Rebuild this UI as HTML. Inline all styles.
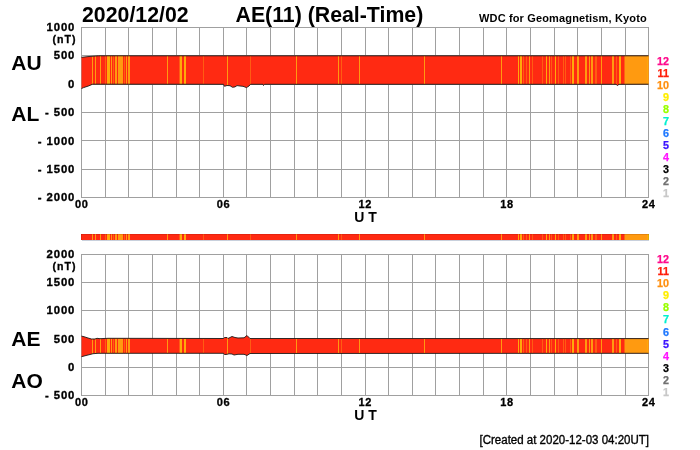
<!DOCTYPE html>
<html><head><meta charset="utf-8"><style>
html,body{margin:0;padding:0;background:#fff;width:700px;height:450px;overflow:hidden}
svg{display:block;will-change:transform}
text{font-family:"Liberation Sans",sans-serif;font-weight:bold;fill:#000}
.t1{font-size:21.3px}
.wdc{font-size:11px;letter-spacing:0.15px}
.big{font-size:21px}
.yl text{font-size:11.3px;letter-spacing:0.9px;stroke:#000;stroke-width:0.35px}
.nt{font-size:10.6px;text-anchor:end;letter-spacing:1px;stroke:#000;stroke-width:0.3px}
.xl text{font-size:11px;letter-spacing:0.6px;stroke:#000;stroke-width:0.3px}
.ut{font-size:14px}
.lg text{font-size:10.8px}
.cr{font-size:12px;font-weight:normal;stroke:#000;stroke-width:0.35px}
</style></head><body>
<svg width="700" height="450" viewBox="0 0 700 450">
<defs>
<clipPath id="cu"><polygon points="81.5,57.3 89,56.5 98.5,55.8 648.5,55.8 648.5,84.2 619,84.3 617.5,85.5 616,84.3 264.5,84.3 263.5,85.5 263,84.3 250.5,84.3 249,86 246.5,87.6 243,86.3 240,86 237,85.6 235,86.9 232.5,87.3 230,85.7 227,85.5 224.5,86.3 223.5,84.3 92.6,84.2 88.7,85.9 83.6,87.6 81.5,88.5"/></clipPath>
<clipPath id="cl"><polygon points="81.5,336.1 84,336.7 88,338 91.5,339 95,339 97,338.3 100,338.7 108,338.3 223.5,338.5 224.5,337.5 227,337.5 228,338.5 232,336.5 235,337.5 238,338 244,337.8 247,335.5 250,338.5 648.5,338.6 648.5,353.3 250,353.5 247,355.5 244,354.3 238,354.3 234,355 232,354 229,353.8 226,354.5 224.5,354.5 223.5,353.3 98,353.3 93,353.7 90,354.5 86,355.5 81.5,356.7"/></clipPath>
<clipPath id="cb"><rect x="81" y="234" width="568" height="6"/></clipPath>
<g id="st"><rect x="60" y="0" width="600" height="450" fill="#ff2a12"/>
<rect x="92" y="0" width="1" height="450" fill="#ff9a10"/>
<rect x="95" y="0" width="1" height="450" fill="#ff9a10"/>
<rect x="100" y="0" width="1" height="450" fill="#ff9a10"/>
<rect x="105" y="0" width="1" height="450" fill="#ff5c12"/>
<rect x="107" y="0" width="3" height="450" fill="#ffaa0a"/>
<rect x="111" y="0" width="1" height="450" fill="#ff9a10"/>
<rect x="113" y="0" width="1" height="450" fill="#ff5c12"/>
<rect x="115" y="0" width="2" height="450" fill="#ff9a10"/>
<rect x="118" y="0" width="5" height="450" fill="#ff9a10"/>
<rect x="124" y="0" width="1" height="450" fill="#ff5c12"/>
<rect x="126" y="0" width="1" height="450" fill="#ff9a10"/>
<rect x="128" y="0" width="2" height="450" fill="#ff9a10"/>
<rect x="167" y="0" width="1" height="450" fill="#ff9a10"/>
<rect x="179" y="0" width="1" height="450" fill="#ff5c12"/>
<rect x="180" y="0" width="2" height="450" fill="#ffaa0a"/>
<rect x="184" y="0" width="2" height="450" fill="#ffaa0a"/>
<rect x="203" y="0" width="1" height="450" fill="#ff5c12"/>
<rect x="227" y="0" width="1" height="450" fill="#ff9a10"/>
<rect x="250" y="0" width="1" height="450" fill="#ff5c12"/>
<rect x="296" y="0" width="1" height="450" fill="#ff9a10"/>
<rect x="338" y="0" width="1" height="450" fill="#ff9a10"/>
<rect x="341" y="0" width="1" height="450" fill="#ff5c12"/>
<rect x="359" y="0" width="1" height="450" fill="#ff9a10"/>
<rect x="424" y="0" width="1" height="450" fill="#ff9a10"/>
<rect x="501" y="0" width="1" height="450" fill="#ff9a10"/>
<rect x="518" y="0" width="1" height="450" fill="#ffaa0a"/>
<rect x="520" y="0" width="2" height="450" fill="#ffaa0a"/>
<rect x="523" y="0" width="1" height="450" fill="#ff5c12"/>
<rect x="526" y="0" width="1" height="450" fill="#ff5c12"/>
<rect x="529" y="0" width="1" height="450" fill="#ff9a10"/>
<rect x="532" y="0" width="1" height="450" fill="#ff5c12"/>
<rect x="542" y="0" width="1" height="450" fill="#ff5c12"/>
<rect x="546" y="0" width="1" height="450" fill="#ffaa0a"/>
<rect x="549" y="0" width="1" height="450" fill="#ff9a10"/>
<rect x="551" y="0" width="1" height="450" fill="#ff5c12"/>
<rect x="555" y="0" width="1" height="450" fill="#ffaa0a"/>
<rect x="558" y="0" width="1" height="450" fill="#ff5c12"/>
<rect x="563" y="0" width="1" height="450" fill="#ff5c12"/>
<rect x="565" y="0" width="1" height="450" fill="#ff5c12"/>
<rect x="570" y="0" width="1" height="450" fill="#ff5c12"/>
<rect x="572" y="0" width="2" height="450" fill="#ffaa0a"/>
<rect x="577" y="0" width="2" height="450" fill="#ff9a10"/>
<rect x="585" y="0" width="2" height="450" fill="#ff9a10"/>
<rect x="589" y="0" width="1" height="450" fill="#ff9a10"/>
<rect x="591" y="0" width="2" height="450" fill="#ff9a10"/>
<rect x="595" y="0" width="2" height="450" fill="#ff5c12"/>
<rect x="601" y="0" width="1" height="450" fill="#ff9a10"/>
<rect x="612" y="0" width="2" height="450" fill="#ff9a10"/>
<rect x="616" y="0" width="1" height="450" fill="#ff5c12"/>
<rect x="619" y="0" width="2" height="450" fill="#ffaa0a"/>
<rect x="624.5" y="0" width="40" height="450" fill="#ff9a10"/>
<rect x="647.6" y="0" width="1" height="450" fill="#ffc000"/></g>
</defs>
<rect width="700" height="450" fill="#fff"/>
<g stroke="#a0a0a0" stroke-width="1" fill="none"><line x1="81.50" y1="27.5" x2="81.50" y2="197.5"/>
<line x1="105.50" y1="27.5" x2="105.50" y2="197.5"/>
<line x1="128.50" y1="27.5" x2="128.50" y2="197.5"/>
<line x1="152.50" y1="27.5" x2="152.50" y2="197.5"/>
<line x1="176.50" y1="27.5" x2="176.50" y2="197.5"/>
<line x1="199.50" y1="27.5" x2="199.50" y2="197.5"/>
<line x1="223.50" y1="27.5" x2="223.50" y2="197.5"/>
<line x1="246.50" y1="27.5" x2="246.50" y2="197.5"/>
<line x1="270.50" y1="27.5" x2="270.50" y2="197.5"/>
<line x1="294.50" y1="27.5" x2="294.50" y2="197.5"/>
<line x1="317.50" y1="27.5" x2="317.50" y2="197.5"/>
<line x1="341.50" y1="27.5" x2="341.50" y2="197.5"/>
<line x1="365.50" y1="27.5" x2="365.50" y2="197.5"/>
<line x1="388.50" y1="27.5" x2="388.50" y2="197.5"/>
<line x1="412.50" y1="27.5" x2="412.50" y2="197.5"/>
<line x1="435.50" y1="27.5" x2="435.50" y2="197.5"/>
<line x1="459.50" y1="27.5" x2="459.50" y2="197.5"/>
<line x1="483.50" y1="27.5" x2="483.50" y2="197.5"/>
<line x1="506.50" y1="27.5" x2="506.50" y2="197.5"/>
<line x1="530.50" y1="27.5" x2="530.50" y2="197.5"/>
<line x1="554.50" y1="27.5" x2="554.50" y2="197.5"/>
<line x1="577.50" y1="27.5" x2="577.50" y2="197.5"/>
<line x1="601.50" y1="27.5" x2="601.50" y2="197.5"/>
<line x1="625.50" y1="27.5" x2="625.50" y2="197.5"/>
<line x1="648.50" y1="27.5" x2="648.50" y2="197.5"/>
<line x1="81.0" y1="27.50" x2="649.0" y2="27.50"/>
<line x1="81.0" y1="55.50" x2="649.0" y2="55.50"/>
<line x1="81.0" y1="84.50" x2="649.0" y2="84.50"/>
<line x1="81.0" y1="112.50" x2="649.0" y2="112.50"/>
<line x1="81.0" y1="140.50" x2="649.0" y2="140.50"/>
<line x1="81.0" y1="169.50" x2="649.0" y2="169.50"/>
<line x1="81.0" y1="197.50" x2="649.0" y2="197.50"/></g>
<g stroke="#a0a0a0" stroke-width="1" fill="none"><line x1="81.50" y1="254.5" x2="81.50" y2="395.5"/>
<line x1="105.50" y1="254.5" x2="105.50" y2="395.5"/>
<line x1="128.50" y1="254.5" x2="128.50" y2="395.5"/>
<line x1="152.50" y1="254.5" x2="152.50" y2="395.5"/>
<line x1="176.50" y1="254.5" x2="176.50" y2="395.5"/>
<line x1="199.50" y1="254.5" x2="199.50" y2="395.5"/>
<line x1="223.50" y1="254.5" x2="223.50" y2="395.5"/>
<line x1="246.50" y1="254.5" x2="246.50" y2="395.5"/>
<line x1="270.50" y1="254.5" x2="270.50" y2="395.5"/>
<line x1="294.50" y1="254.5" x2="294.50" y2="395.5"/>
<line x1="317.50" y1="254.5" x2="317.50" y2="395.5"/>
<line x1="341.50" y1="254.5" x2="341.50" y2="395.5"/>
<line x1="365.50" y1="254.5" x2="365.50" y2="395.5"/>
<line x1="388.50" y1="254.5" x2="388.50" y2="395.5"/>
<line x1="412.50" y1="254.5" x2="412.50" y2="395.5"/>
<line x1="435.50" y1="254.5" x2="435.50" y2="395.5"/>
<line x1="459.50" y1="254.5" x2="459.50" y2="395.5"/>
<line x1="483.50" y1="254.5" x2="483.50" y2="395.5"/>
<line x1="506.50" y1="254.5" x2="506.50" y2="395.5"/>
<line x1="530.50" y1="254.5" x2="530.50" y2="395.5"/>
<line x1="554.50" y1="254.5" x2="554.50" y2="395.5"/>
<line x1="577.50" y1="254.5" x2="577.50" y2="395.5"/>
<line x1="601.50" y1="254.5" x2="601.50" y2="395.5"/>
<line x1="625.50" y1="254.5" x2="625.50" y2="395.5"/>
<line x1="648.50" y1="254.5" x2="648.50" y2="395.5"/>
<line x1="81.0" y1="254.50" x2="649.0" y2="254.50"/>
<line x1="81.0" y1="282.50" x2="649.0" y2="282.50"/>
<line x1="81.0" y1="310.50" x2="649.0" y2="310.50"/>
<line x1="81.0" y1="339.50" x2="649.0" y2="339.50"/>
<line x1="81.0" y1="367.50" x2="649.0" y2="367.50"/>
<line x1="81.0" y1="395.50" x2="649.0" y2="395.50"/></g>
<g clip-path="url(#cu)"><use href="#st"/></g>
<g clip-path="url(#cl)"><use href="#st"/></g>
<rect x="82" y="240" width="567" height="1" fill="#c8d0dc"/>
<g clip-path="url(#cb)"><use href="#st"/></g>
<rect x="81" y="234" width="568" height="1" fill="#500000" fill-opacity="0.15"/>
<rect x="81" y="234" width="1" height="6" fill="#500000" fill-opacity="0.15"/>
<rect x="648" y="234" width="1" height="6" fill="#a0a000" fill-opacity="0.35"/>
<g fill="none" stroke="#1a1a1a" stroke-width="0.9">
<polyline points="81.5,57.3 89,56.5 98.5,55.8 648.5,55.8"/><polyline points="81.5,88.5 83.6,87.6 88.7,85.9 92.6,84.2 223.5,84.3 224.5,86.3 227,85.5 230,85.7 232.5,87.3 235,86.9 237,85.6 240,86 243,86.3 246.5,87.6 249,86 250.5,84.3 263,84.3 263.5,85.5 264.5,84.3 616,84.3 617.5,85.5 619,84.3 648.5,84.2"/>
<polyline points="81.5,336.1 84,336.7 88,338 91.5,339 95,339 97,338.3 100,338.7 108,338.3 223.5,338.5 224.5,337.5 227,337.5 228,338.5 232,336.5 235,337.5 238,338 244,337.8 247,335.5 250,338.5 648.5,338.6"/><polyline points="81.5,356.7 86,355.5 90,354.5 93,353.7 98,353.3 223.5,353.3 224.5,354.5 226,354.5 229,353.8 232,354 234,355 238,354.3 244,354.3 247,355.5 250,353.5 648.5,353.3"/>
</g>
<text class="t1" x="82" y="22.2">2020/12/02</text>
<text class="t1" x="235.5" y="22.2">AE(11) (Real-Time)</text>
<text class="wdc" x="479" y="21.8">WDC for Geomagnetism, Kyoto</text>
<text class="big" x="11.3" y="69.9">AU</text>
<text class="big" x="11.3" y="120.6">AL</text>
<text class="big" x="11.3" y="346.1">AE</text>
<text class="big" x="11.3" y="388.4">AO</text>
<g class="yl"><text x="75.3" y="31.30" text-anchor="end">1000</text>
<text x="75.3" y="59.30" text-anchor="end">500</text>
<text x="75.3" y="87.70" text-anchor="end">0</text>
<text x="75.3" y="116.00" text-anchor="end">- 500</text>
<text x="75.3" y="144.50" text-anchor="end">- 1000</text>
<text x="75.3" y="172.70" text-anchor="end">- 1500</text>
<text x="75.3" y="201.30" text-anchor="end">- 2000</text></g>
<text class="nt" x="76.6" y="43">(nT)</text>
<g class="yl"><text x="75.3" y="258.30" text-anchor="end">2000</text>
<text x="75.3" y="286.20" text-anchor="end">1500</text>
<text x="75.3" y="314.40" text-anchor="end">1000</text>
<text x="75.3" y="342.70" text-anchor="end">500</text>
<text x="75.3" y="371.00" text-anchor="end">0</text>
<text x="75.3" y="399.20" text-anchor="end">- 500</text></g>
<text class="nt" x="76.6" y="270">(nT)</text>
<g class="xl"><text x="81.80" y="208.00" text-anchor="middle">00</text>
<text x="223.55" y="208.00" text-anchor="middle">06</text>
<text x="365.30" y="208.00" text-anchor="middle">12</text>
<text x="507.05" y="208.00" text-anchor="middle">18</text>
<text x="648.80" y="208.00" text-anchor="middle">24</text></g>
<g class="xl"><text x="81.80" y="406.10" text-anchor="middle">00</text>
<text x="223.55" y="406.10" text-anchor="middle">06</text>
<text x="365.30" y="406.10" text-anchor="middle">12</text>
<text x="507.05" y="406.10" text-anchor="middle">18</text>
<text x="648.80" y="406.10" text-anchor="middle">24</text></g>
<text class="ut" x="365.5" y="221.7" text-anchor="middle">U T</text>
<text class="ut" x="365.5" y="420.4" text-anchor="middle">U T</text>
<g class="lg"><text x="669" y="64.60" text-anchor="end" style="fill:#ff0a8c;stroke:#ff0a8c;stroke-width:0.25px">12</text>
<text x="669" y="76.65" text-anchor="end" style="fill:#ff1e0a;stroke:#ff1e0a;stroke-width:0.25px">11</text>
<text x="669" y="88.70" text-anchor="end" style="fill:#ff9010;stroke:#ff9010;stroke-width:0.25px">10</text>
<text x="669" y="100.75" text-anchor="end" style="fill:#ffee00;stroke:#ffee00;stroke-width:0.25px">9</text>
<text x="669" y="112.80" text-anchor="end" style="fill:#99ff00;stroke:#99ff00;stroke-width:0.25px">8</text>
<text x="669" y="124.85" text-anchor="end" style="fill:#00f0d0;stroke:#00f0d0;stroke-width:0.25px">7</text>
<text x="669" y="136.90" text-anchor="end" style="fill:#1e78ff;stroke:#1e78ff;stroke-width:0.25px">6</text>
<text x="669" y="148.95" text-anchor="end" style="fill:#3c14ff;stroke:#3c14ff;stroke-width:0.25px">5</text>
<text x="669" y="161.00" text-anchor="end" style="fill:#ff14ff;stroke:#ff14ff;stroke-width:0.25px">4</text>
<text x="669" y="173.05" text-anchor="end" style="fill:#000000;stroke:#000000;stroke-width:0.25px">3</text>
<text x="669" y="185.10" text-anchor="end" style="fill:#707070;stroke:#707070;stroke-width:0.25px">2</text>
<text x="669" y="197.15" text-anchor="end" style="fill:#c8c8c8;stroke:#c8c8c8;stroke-width:0.25px">1</text></g>
<g class="lg"><text x="669" y="263.20" text-anchor="end" style="fill:#ff0a8c;stroke:#ff0a8c;stroke-width:0.25px">12</text>
<text x="669" y="275.25" text-anchor="end" style="fill:#ff1e0a;stroke:#ff1e0a;stroke-width:0.25px">11</text>
<text x="669" y="287.30" text-anchor="end" style="fill:#ff9010;stroke:#ff9010;stroke-width:0.25px">10</text>
<text x="669" y="299.35" text-anchor="end" style="fill:#ffee00;stroke:#ffee00;stroke-width:0.25px">9</text>
<text x="669" y="311.40" text-anchor="end" style="fill:#99ff00;stroke:#99ff00;stroke-width:0.25px">8</text>
<text x="669" y="323.45" text-anchor="end" style="fill:#00f0d0;stroke:#00f0d0;stroke-width:0.25px">7</text>
<text x="669" y="335.50" text-anchor="end" style="fill:#1e78ff;stroke:#1e78ff;stroke-width:0.25px">6</text>
<text x="669" y="347.55" text-anchor="end" style="fill:#3c14ff;stroke:#3c14ff;stroke-width:0.25px">5</text>
<text x="669" y="359.60" text-anchor="end" style="fill:#ff14ff;stroke:#ff14ff;stroke-width:0.25px">4</text>
<text x="669" y="371.65" text-anchor="end" style="fill:#000000;stroke:#000000;stroke-width:0.25px">3</text>
<text x="669" y="383.70" text-anchor="end" style="fill:#707070;stroke:#707070;stroke-width:0.25px">2</text>
<text x="669" y="395.75" text-anchor="end" style="fill:#c8c8c8;stroke:#c8c8c8;stroke-width:0.25px">1</text></g>
<text class="cr" x="479.5" y="443.6" textLength="169.5" lengthAdjust="spacingAndGlyphs">[Created at 2020-12-03 04:20UT]</text>
</svg>
</body></html>
